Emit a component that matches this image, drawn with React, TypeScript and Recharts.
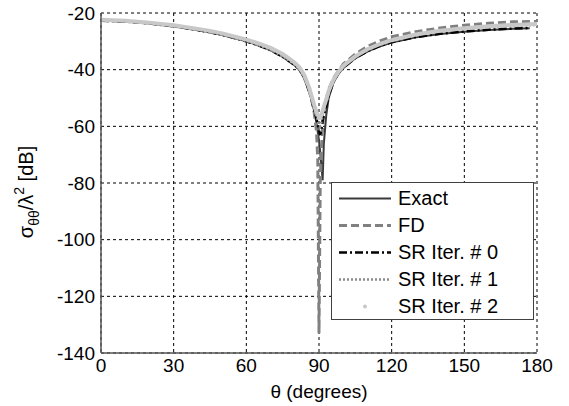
import React from 'react'
import { LineChart, Line, XAxis, YAxis, CartesianGrid } from 'recharts'

// angle samples (degrees)
const theta = [0, 10, 20, 30, 40, 45, 50, 55, 60, 65, 70, 75, 78, 80, 82, 84, 86, 87, 88, 89, 89.5, 90, 90.5, 91, 91.5, 92, 93, 94, 96, 98, 100, 105, 110, 115, 120, 130, 140, 150, 160, 170, 177, 180]

const exact = [-22.7, -23.0, -23.7, -24.7, -26.0, -26.8, -27.7, -28.8, -30.0, -31.4, -33.1, -35.5, -37.3, -38.5, -40.0, -43.0, -48.0, -51.0, -54.5, -59.0, -62.0, -65.0, -69.0, -74.0, -79.0, -66.0, -56.0, -50.0, -44.5, -41.5, -39.5, -36.0, -33.6, -31.8, -30.4, -28.6, -27.4, -26.6, -26.0, -25.6, -25.4, null]
const fd = [-22.6, -22.9, -23.6, -24.6, -25.9, -26.7, -27.6, -28.7, -29.9, -31.3, -33.0, -35.3, -37.0, -38.3, -40.0, -43.0, -47.5, -50.8, -55.0, -62.0, -72.0, -133.0, -80.0, -68.0, -60.0, -55.0, -50.5, -47.0, -43.0, -40.5, -38.0, -34.5, -31.8, -29.9, -28.4, -26.6, -25.3, -24.3, -23.6, -23.1, -23.0, -23.0]
const sr0 = [-22.7, -23.0, -23.7, -24.7, -26.0, -26.8, -27.7, -28.8, -30.0, -31.4, -33.1, -35.4, -37.2, -38.4, -40.0, -43.0, -47.8, -50.8, -54.0, -57.5, -59.5, -61.5, -63.0, -61.0, -58.0, -56.0, -53.0, -49.0, -44.3, -41.3, -39.3, -35.9, -33.5, -31.7, -30.3, -28.5, -27.3, -26.5, -25.9, -25.5, -25.3, null]
const sr1 = [-22.6, -22.9, -23.6, -24.6, -25.9, -26.7, -27.6, -28.7, -29.9, -31.3, -33.0, -35.3, -37.1, -38.3, -39.9, -42.8, -47.5, -50.5, -53.5, -56.5, -58.0, -59.5, -60.0, -58.5, -56.0, -54.0, -51.5, -48.0, -43.8, -41.0, -38.8, -35.3, -32.8, -31.0, -29.6, -27.7, -26.4, -25.5, -24.9, -24.5, -24.3, -24.2]
const sr2 = [-22.4, -22.7, -23.4, -24.3, -25.6, -26.3, -27.2, -28.3, -29.4, -30.7, -32.3, -34.5, -36.3, -37.6, -39.2, -42.0, -46.5, -49.5, -52.5, -55.0, -56.0, -57.0, -57.0, -56.0, -54.5, -53.0, -50.5, -47.5, -43.5, -40.8, -38.7, -35.3, -32.8, -31.0, -29.6, -27.6, -26.3, -25.4, -24.7, -24.2, -24.0, -23.9]

const xTicks = [0, 30, 60, 90, 120, 150, 180]
const yTicks = [-140, -120, -100, -80, -60, -40, -20]

const seriesNames = ['Exact', 'FD', 'SR Iter. # 0', 'SR Iter. # 1', 'SR Iter. # 2']

const data = theta.map((t, i) => ({
  theta: t,
  exact: exact[i],
  fd: fd[i],
  sr0: sr0[i],
  sr1: sr1[i],
  sr2: sr2[i],
}))

const font = '"Liberation Sans", Arial, sans-serif'

const styles = [
  { stroke: '#3a3a3a', width: 2, dash: undefined as string | undefined },
  { stroke: '#808080', width: 3, dash: '8 4' },
  { stroke: '#000000', width: 2.5, dash: '8 3 2 3' },
  { stroke: '#8c8c8c', width: 2.5, dash: '2 2' },
  { stroke: '#c8c8c8', width: 4, dash: undefined },
]

function LegendBox() {
  return (
    <div style={{
      position: 'absolute', left: 331, top: 182,
      width: 203, height: 138, boxSizing: 'border-box', border: '1.5px solid #404040',
      background: '#fff', fontFamily: font, fontSize: 20, color: '#000', paddingTop: 2,
    }}>
      {seriesNames.map((name, i) => (
        <div key={name} style={{ height: 27, display: 'flex', alignItems: 'center' }}>
          <svg width={66} height={27} style={{ flex: 'none' }}>
            {i < 4 ? (
              <line x1={7} x2={59} y1={13.5} y2={13.5} stroke={styles[i].stroke}
                strokeWidth={styles[i].width} strokeDasharray={styles[i].dash} />
            ) : (
              <circle cx={33} cy={13.5} r={2} fill="#c8c8c8" />
            )}
          </svg>
          <span style={{ whiteSpace: 'nowrap' }}>{name}</span>
        </div>
      ))}
    </div>
  )
}

const YLabel = () => (
  <text transform="translate(33,192) rotate(-90)" textAnchor="middle" fontFamily={font} fontSize={20} fill="#000">
    σ<tspan dy={6} fontSize={14}>θθ</tspan><tspan dy={-6}>/λ</tspan><tspan dy={-9} fontSize={14}>2</tspan><tspan dy={9}> [dB]</tspan>
  </text>
)

export default function App() {
  const keys = ['exact', 'fd', 'sr0', 'sr1', 'sr2']
  return (
    <div style={{ position: 'absolute', left: 0, top: 0, width: 569, height: 406, background: '#fff' }}>
      <LineChart width={569} height={406} data={data} margin={{ top: 13, right: 32, left: 0, bottom: 0 }}>
        <CartesianGrid stroke="#000" strokeDasharray="3 3" strokeWidth={1} />
        <XAxis
          dataKey="theta" type="number" domain={[0, 180]} ticks={xTicks} height={53}
          stroke="#555" strokeWidth={1.5} tickLine={false} tickSize={0} tickMargin={6}
          tick={{ fontSize: 19, fill: '#000', fontFamily: font }}
          label={{ value: 'θ (degrees)', position: 'insideBottom', offset: 8, fontSize: 19, fill: '#000', fontFamily: font }}
        />
        <XAxis xAxisId="top" orientation="top" dataKey="theta" type="number" domain={[0, 180]} height={0}
          tick={false} tickLine={false} stroke="#555" strokeWidth={1.5} />
        <YAxis
          type="number" domain={[-140, -20]} ticks={yTicks} width={101}
          stroke="#555" strokeWidth={1.5} tickLine={false} tickSize={0} tickMargin={6}
          tick={{ fontSize: 19, fill: '#000', fontFamily: font }}
          label={{ content: YLabel }}
        />
        <YAxis yAxisId="right" orientation="right" domain={[-140, -20]} width={0}
          tick={false} tickLine={false} stroke="#555" strokeWidth={1.5} />
        {keys.map((k, i) => (
          <Line key={k} type="linear" dataKey={k} name={seriesNames[i]} stroke={styles[i].stroke}
            strokeWidth={styles[i].width} strokeDasharray={styles[i].dash} dot={false}
            connectNulls={false} isAnimationActive={false} />
        ))}
      </LineChart>
      <LegendBox />
    </div>
  )
}
